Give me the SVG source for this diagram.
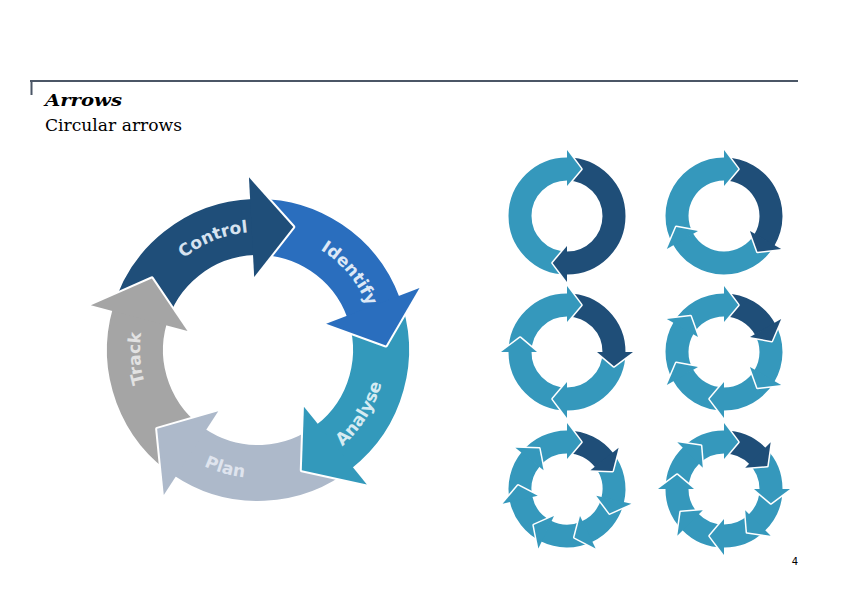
<svg xmlns="http://www.w3.org/2000/svg" width="842" height="595" viewBox="0 0 842 595">
<style>
.hdr{fill:none;stroke:#4b5666;stroke-width:2}
.title{font-family:"DejaVu Serif","Liberation Serif",serif;fill:#000}
.lbl{font-family:"DejaVu Sans","Liberation Sans",sans-serif;font-weight:bold;font-size:17px}
.sb{fill:none;stroke:currentColor;stroke-width:23}
.bb{fill:none;stroke:currentColor;stroke-width:56}
.hd{fill:currentColor}
.mk{fill:#000;stroke:#000;stroke-linejoin:round}
</style>
<defs>
  <polygon id="sh" points="66,0 30,0 46.9,14.3"/>
  <mask id="m2" maskUnits="userSpaceOnUse" x="-80" y="-80" width="160" height="160"><rect x="-80" y="-80" width="160" height="160" fill="#fff"/><use href="#sh" class="mk" stroke-width="3" transform="rotate(-180)"/></mask>
  <mask id="m3" maskUnits="userSpaceOnUse" x="-80" y="-80" width="160" height="160"><rect x="-80" y="-80" width="160" height="160" fill="#fff"/><use href="#sh" class="mk" stroke-width="3" transform="rotate(-120)"/></mask>
  <mask id="m4" maskUnits="userSpaceOnUse" x="-80" y="-80" width="160" height="160"><rect x="-80" y="-80" width="160" height="160" fill="#fff"/><use href="#sh" class="mk" stroke-width="3" transform="rotate(-90)"/></mask>
  <mask id="m6" maskUnits="userSpaceOnUse" x="-80" y="-80" width="160" height="160"><rect x="-80" y="-80" width="160" height="160" fill="#fff"/><use href="#sh" class="mk" stroke-width="3" transform="rotate(-60)"/></mask>
  <mask id="m7" maskUnits="userSpaceOnUse" x="-80" y="-80" width="160" height="160"><rect x="-80" y="-80" width="160" height="160" fill="#fff"/><use href="#sh" class="mk" stroke-width="3" transform="rotate(-51.4286)"/></mask>
  <mask id="m8" maskUnits="userSpaceOnUse" x="-80" y="-80" width="160" height="160"><rect x="-80" y="-80" width="160" height="160" fill="#fff"/><use href="#sh" class="mk" stroke-width="3" transform="rotate(-45)"/></mask>
  <g id="s2"><path class="sb" d="M -47 0 A 47 47 0 1 1 46.993 0.820" mask="url(#m2)"/><use href="#sh" class="hd"/></g>
  <g id="s3"><path class="sb" d="M -23.5 -40.703 A 47 47 0 0 1 46.993 0.820" mask="url(#m3)"/><use href="#sh" class="hd"/></g>
  <g id="s4"><path class="sb" d="M 0 -47 A 47 47 0 0 1 46.993 0.820" mask="url(#m4)"/><use href="#sh" class="hd"/></g>
  <g id="s6"><path class="sb" d="M 23.5 -40.703 A 47 47 0 0 1 46.993 0.820" mask="url(#m6)"/><use href="#sh" class="hd"/></g>
  <g id="s7"><path class="sb" d="M 29.304 -36.746 A 47 47 0 0 1 46.993 0.820" mask="url(#m7)"/><use href="#sh" class="hd"/></g>
  <g id="s8"><path class="sb" d="M 33.234 -33.234 A 47 47 0 0 1 46.993 0.820" mask="url(#m8)"/><use href="#sh" class="hd"/></g>

  <polygon id="bh" points="173,0 73,0 121.03,41.67"/>
  <mask id="mB" maskUnits="userSpaceOnUse" x="-200" y="-200" width="400" height="400"><rect x="-200" y="-200" width="400" height="400" fill="#fff"/><use href="#bh" class="mk" stroke-width="4" transform="rotate(-72)"/></mask>
  <g id="bseg"><path class="bb" d="M 38.01 -116.98 A 123 123 0 0 1 122.98 2.15" mask="url(#mB)"/><use href="#bh" class="hd"/></g>
  <path id="cw" d="M 60.77 -101.15 A 118 118 0 0 1 110.16 42.29"/>
  <path id="ccw" d="M 119.50 45.87 A 128 128 0 0 0 65.93 -109.72"/>
</defs>

<g id="header">
  <path class="hdr" d="M30 81 H798 M31.5 81 V95"/>
  <text x="45" y="106" class="title" font-weight="bold" font-style="italic" font-size="17" textLength="77" lengthAdjust="spacingAndGlyphs">Arrows</text>
  <text x="45" y="131" class="title" font-size="17" textLength="137" lengthAdjust="spacingAndGlyphs">Circular arrows</text>
</g>

<g id="big-cycle" class="lbl">
  <g id="control" transform="translate(258,350) rotate(267)">
    <use href="#bseg" color="#1f4e79"/>
    <text fill="#d7e3f0" text-anchor="middle"><textPath href="#cw" startOffset="50%">Control</textPath></text>
  </g>
  <g id="identify" transform="translate(258,350) rotate(339)">
    <use href="#bseg" color="#2a6ebe"/>
    <text fill="#dde8f6" text-anchor="middle"><textPath href="#cw" startOffset="50%">Identify</textPath></text>
  </g>
  <g id="analyse" transform="translate(258,350) rotate(51)">
    <use href="#bseg" color="#3399bb"/>
    <text fill="#d6ebf2" text-anchor="middle"><textPath href="#ccw" startOffset="50%">Analyse</textPath></text>
  </g>
  <g id="plan" transform="translate(258,350) rotate(123)">
    <use href="#bseg" color="#adb9ca"/>
    <text fill="#dfe4ee" text-anchor="middle"><textPath href="#ccw" startOffset="48%">Plan</textPath></text>
  </g>
  <g id="track" transform="translate(258,350) rotate(195)">
    <use href="#bseg" color="#a5a5a5"/>
    <text fill="#e2e2e2" text-anchor="middle"><textPath href="#cw" startOffset="50%">Track</textPath></text>
  </g>
</g>

<g id="cycle-2" transform="translate(567,216)">
  <use id="c2-1" href="#s2" transform="rotate(270)" color="#3598bc"/>
  <use id="c2-2" href="#s2" transform="rotate(90)" color="#1f4e78"/>
</g>
<g id="cycle-3" transform="translate(724,216)">
  <use id="c3-1" href="#s3" transform="rotate(270)" color="#3598bc"/>
  <use id="c3-2" href="#s3" transform="rotate(30)" color="#1f4e78"/>
  <use id="c3-3" href="#s3" transform="rotate(150)" color="#3598bc"/>
</g>
<g id="cycle-4" transform="translate(567,352)">
  <use id="c4-1" href="#s4" transform="rotate(270)" color="#3598bc"/>
  <use id="c4-2" href="#s4" transform="rotate(0)" color="#1f4e78"/>
  <use id="c4-3" href="#s4" transform="rotate(90)" color="#3598bc"/>
  <use id="c4-4" href="#s4" transform="rotate(180)" color="#3598bc"/>
</g>
<g id="cycle-6" transform="translate(724,352)">
  <use id="c6-1" href="#s6" transform="rotate(270)" color="#3598bc"/>
  <use id="c6-2" href="#s6" transform="rotate(330)" color="#1f4e78"/>
  <use id="c6-3" href="#s6" transform="rotate(30)" color="#3598bc"/>
  <use id="c6-4" href="#s6" transform="rotate(90)" color="#3598bc"/>
  <use id="c6-5" href="#s6" transform="rotate(150)" color="#3598bc"/>
  <use id="c6-6" href="#s6" transform="rotate(210)" color="#3598bc"/>
</g>
<g id="cycle-7" transform="translate(567,489)">
  <use id="c7-1" href="#s7" transform="rotate(270)" color="#3598bc"/>
  <use id="c7-2" href="#s7" transform="rotate(321.43)" color="#1f4e78"/>
  <use id="c7-3" href="#s7" transform="rotate(12.86)" color="#3598bc"/>
  <use id="c7-4" href="#s7" transform="rotate(64.29)" color="#3598bc"/>
  <use id="c7-5" href="#s7" transform="rotate(115.71)" color="#3598bc"/>
  <use id="c7-6" href="#s7" transform="rotate(167.14)" color="#3598bc"/>
  <use id="c7-7" href="#s7" transform="rotate(218.57)" color="#3598bc"/>
</g>
<g id="cycle-8" transform="translate(724,489)">
  <use id="c8-1" href="#s8" transform="rotate(270)" color="#3598bc"/>
  <use id="c8-2" href="#s8" transform="rotate(315)" color="#1f4e78"/>
  <use id="c8-3" href="#s8" transform="rotate(0)" color="#3598bc"/>
  <use id="c8-4" href="#s8" transform="rotate(45)" color="#3598bc"/>
  <use id="c8-5" href="#s8" transform="rotate(90)" color="#3598bc"/>
  <use id="c8-6" href="#s8" transform="rotate(135)" color="#3598bc"/>
  <use id="c8-7" href="#s8" transform="rotate(180)" color="#3598bc"/>
  <use id="c8-8" href="#s8" transform="rotate(225)" color="#3598bc"/>
</g>

<text id="page-number" x="795" y="565" font-family="DejaVu Sans, sans-serif" font-size="10" text-anchor="middle">4</text>
</svg>
